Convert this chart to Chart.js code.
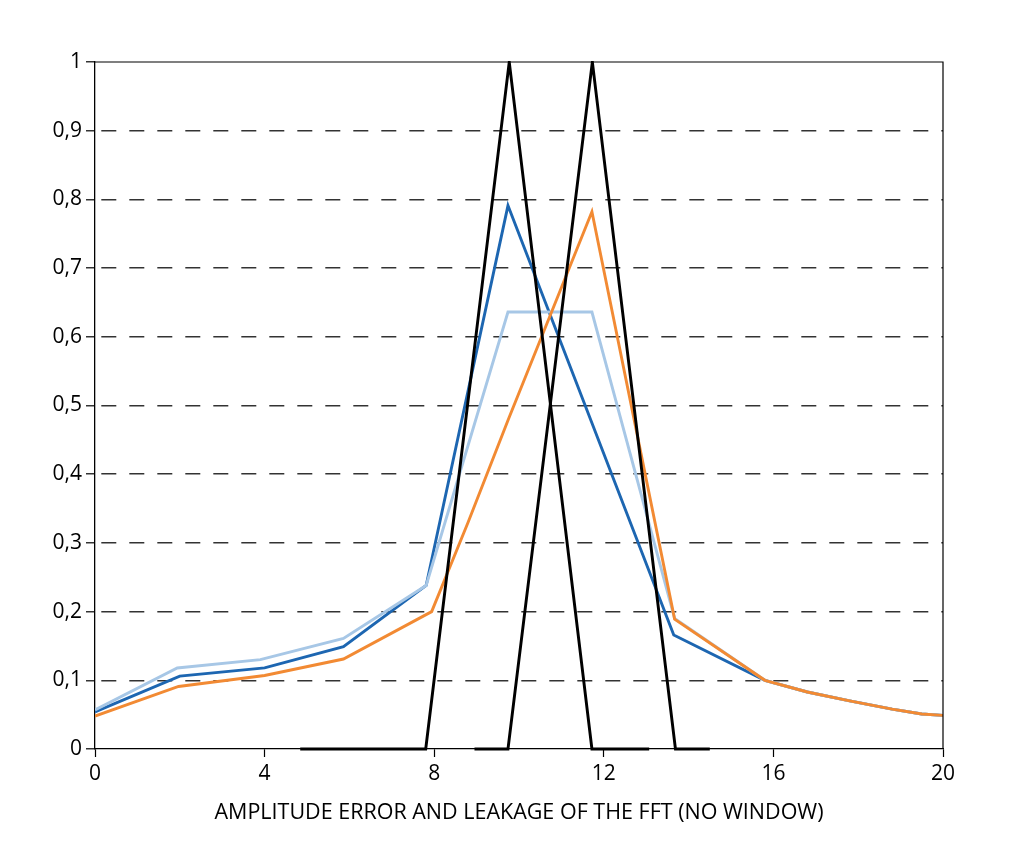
<!DOCTYPE html>
<html>
<head>
<meta charset="utf-8">
<script src="https://cdn.jsdelivr.net/npm/chart.js@4/dist/chart.umd.min.js"></script>
<style>
  html, body { margin: 0; padding: 0; background: #ffffff; }
  canvas { display: block; }
</style>
</head>
<body>
<canvas id="fftChart" width="1024" height="858"></canvas>
<script>
// values
const xTicks = [0, 4, 8, 12, 16, 20];
const yTicks = [0, 0.1, 0.2, 0.3, 0.4, 0.5, 0.6, 0.7, 0.8, 0.9, 1];
const axisTitle = "AMPLITUDE ERROR AND LEAKAGE OF THE FFT (NO WINDOW)";

const darkBlueX = [0, 2.0, 4.0, 5.86, 7.81, 9.74, 13.65, 15.8, 16.8, 17.8, 18.8, 19.5, 20];
const darkBlueY = [0.054, 0.106, 0.118, 0.149, 0.238, 0.791, 0.166, 0.1, 0.083, 0.07, 0.058, 0.051, 0.049];

const lightBlueX = [0, 1.94, 3.9, 5.86, 7.81, 9.74, 11.72, 13.67, 15.8, 16.8, 17.8, 18.8, 19.5, 20];
const lightBlueY = [0.057, 0.118, 0.13, 0.161, 0.238, 0.636, 0.636, 0.19, 0.1, 0.083, 0.07, 0.058, 0.051, 0.049];

const orangeX = [0, 1.97, 4.0, 5.86, 7.94, 8.8, 9.75, 11.72, 13.67, 15.8, 16.8, 17.8, 18.8, 19.5, 20];
const orangeY = [0.048, 0.091, 0.107, 0.131, 0.2, 0.33, 0.48, 0.782, 0.189, 0.1, 0.083, 0.07, 0.058, 0.051, 0.049];

const peak1X = [4.84, 7.8, 9.77, 11.72, 13.07];
const peak1Y = [0, 0, 1, 0, 0];

const peak2X = [8.95, 9.74, 11.73, 13.69, 14.5];
const peak2Y = [0, 0, 1, 0, 0];

function toPoints(xs, ys) {
    return xs.map((x, i) => ({ x: x, y: ys[i] }));
}

// frame round the plot (top and right edges)
const framePlugin = {
    id: "frame",
    afterDraw(chart) {
        const { ctx, chartArea } = chart;
        ctx.save();
        ctx.strokeStyle = "#000000";
        ctx.lineWidth = 1.2;
        ctx.beginPath();
        ctx.moveTo(chartArea.left, chartArea.top);
        ctx.lineTo(chartArea.right, chartArea.top);
        ctx.lineTo(chartArea.right, chartArea.bottom);
        ctx.stroke();
        ctx.restore();
    }
};

const ctx = document.getElementById("fftChart").getContext("2d");
const blackClip = { left: 6, right: 6, top: 1, bottom: 6 };

new Chart(ctx, {
    type: "line",
    data: {
        datasets: [
            { data: toPoints(peak1X, peak1Y), borderColor: "#000000", order: 0, clip: blackClip },
            { data: toPoints(peak2X, peak2Y), borderColor: "#000000", order: 1, clip: blackClip },
            { data: toPoints(orangeX, orangeY), borderColor: "#f28a33", order: 2 },
            { data: toPoints(lightBlueX, lightBlueY), borderColor: "#a7c7e6", order: 3 },
            { data: toPoints(darkBlueX, darkBlueY), borderColor: "#1d66b1", order: 4 }
        ]
    },
    options: {
        responsive: false,
        animation: false,
        devicePixelRatio: 1,
        elements: {
            line: { borderWidth: 2.9, tension: 0, fill: false },
            point: { radius: 0 }
        },
        layout: {
            padding: { left: 0, right: 81, top: 62, bottom: 0 }
        },
        scales: {
            x: {
                type: "linear",
                min: 0,
                max: 20,
                afterFit: (scale) => { scale.height = 109; },
                afterBuildTicks: (scale) => { scale.ticks = xTicks.map(v => ({ value: v })); },
                grid: {
                    drawOnChartArea: false,
                    drawTicks: true,
                    tickLength: 8,
                    tickColor: "#000000",
                    tickWidth: 1.2
                },
                border: { display: true, color: "#000000", width: 1.3 },
                ticks: {
                    color: "#000000",
                    padding: 4,
                    maxRotation: 0,
                    font: { family: "Open Sans", size: 21 }
                },
                title: {
                    display: true,
                    text: axisTitle,
                    color: "#000000",
                    padding: { top: 0, bottom: 32 },
                    font: { family: "Open Sans", size: 21.5 }
                }
            },
            y: {
                type: "linear",
                min: 0,
                max: 1,
                afterFit: (scale) => { scale.width = 95; },
                afterBuildTicks: (scale) => { scale.ticks = yTicks.map(v => ({ value: v })); },
                grid: {
                    drawTicks: true,
                    tickLength: 9,
                    tickColor: "#000000",
                    tickWidth: 1.2,
                    lineWidth: 1.6,
                    color: (c) => (c.tick && (c.tick.value === 0 || c.tick.value === 1)) ? "rgba(0,0,0,0)" : "#333333"
                },
                border: { display: true, color: "#000000", width: 1.3, dash: [15, 13], dashOffset: 22 },
                ticks: {
                    color: "#000000",
                    padding: 4,
                    font: { family: "Open Sans", size: 21 },
                    callback: (v) => String(v).replace(".", ",")
                }
            }
        },
        plugins: {
            legend: { display: false },
            tooltip: { enabled: false }
        }
    },
    plugins: [framePlugin]
});
</script>
</body>
</html>
